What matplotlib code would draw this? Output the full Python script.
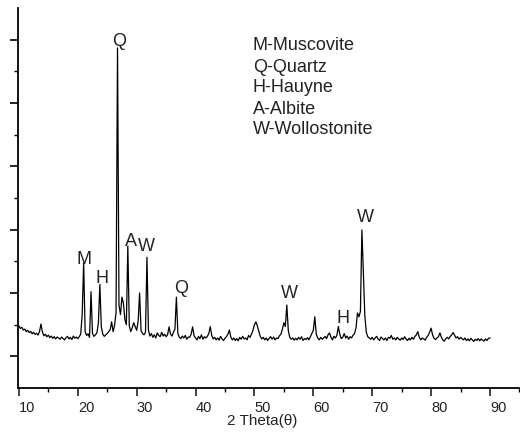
import numpy as np
import matplotlib
matplotlib.use("Agg")
import matplotlib.pyplot as plt
from matplotlib.ticker import FixedLocator, MultipleLocator

plt.rcParams['font.family'] = ['Liberation Sans', 'DejaVu Sans']

# 2 theta grid, 0.25 deg step from 10 to 90
two_theta = np.arange(10, 90.001, 0.25)

# intensity, one row per degree
intensity = [
    196, 188, 192, 183,
    186, 178, 182, 175,
    179, 171, 176, 169,
    173, 167, 178, 202,
    176, 165, 170, 162,
    167, 159, 164, 157,
    162, 155, 161, 158,
    154, 161, 156, 152,
    159, 163, 155, 160,
    153, 164, 157, 161,
    156, 162, 170, 232,   # 20
    395, 178, 166, 171,
    160, 304, 172, 163,
    168, 174, 205, 327,
    192, 170, 163, 168,
    172, 178, 184, 209,
    178, 198, 238, 1074,
    262, 232, 287, 268,
    216, 200, 448, 196,
    178, 190, 206, 194,
    182, 210, 300, 181,   # 30
    172, 168, 176, 413,
    183, 164, 172, 160,
    168, 158, 174, 166,
    162, 176, 164, 170,
    162, 168, 193, 170,
    164, 176, 186, 287,
    172, 160, 156, 164,
    158, 166, 154, 161,
    160, 170, 193, 165,
    158, 152, 163, 156,   # 40
    168, 154, 162, 158,
    163, 172, 194, 166,
    155, 160, 152, 158,
    151, 163, 155, 150,
    157, 162, 170, 183,
    160, 152, 158, 150,
    156, 149, 160, 154,
    163, 155, 158, 152,
    166, 160, 170, 182,
    200, 209, 196, 178,   # 50
    163, 155, 160, 152,
    158, 150, 157, 162,
    154, 161, 152, 158,
    156, 165, 170, 186,
    206, 194, 262, 182,
    160, 154, 158, 151,
    157, 152, 160, 154,
    162, 150, 156, 153,
    159, 152, 162, 172,
    182, 225, 170, 158,   # 60
    152, 160, 154, 158,
    163, 156, 168, 174,
    160, 152, 163, 158,
    166, 194, 170, 156,
    160, 172, 158, 164,
    154, 162, 158, 167,
    172, 190, 237, 225,
    242, 499, 363, 228,
    176, 162, 158, 154,
    160, 152, 158, 163,   # 70
    155, 150, 161, 156,
    152, 158, 150, 160,
    157, 166, 154, 158,
    152, 160, 155, 151,
    158, 153, 162, 155,
    150, 157, 152, 160,
    154, 163, 168, 178,
    160, 152, 158, 155,
    151, 160, 166, 176,
    189, 168, 157, 153,   # 80
    158, 162, 174, 160,
    152, 148, 156, 160,
    155, 163, 168, 175,
    166, 158, 162, 154,
    160, 156, 152, 158,
    150, 155, 149, 157,
    152, 147, 154, 150,
    156, 149, 155, 151,
    148, 155, 150, 157,
    158,
]

# phase letters over the peaks
peak_text = ['Q', 'M', 'H', 'A', 'W', 'Q', 'W', 'H', 'W']
peak_x = [27.0, 21.0, 24.05, 28.95, 31.7, 37.6, 56.0, 65.1, 68.9]
peak_y = [1093, 407, 345, 462, 446, 313, 297, 219, 537]

phases = ['M-Muscovite', 'Q-Quartz', 'H-Hauyne', 'A-Albite', 'W-Wollostonite']

fig = plt.figure(figsize=(5.2, 4.37), dpi=100)
ax = fig.add_axes([18/520, 49/437, 502/520, 380/437])

ax.plot(two_theta, intensity, color='black', lw=0.9)

for t, x, y in zip(peak_text, peak_x, peak_y):
    ax.text(x, y, t, fontsize=13, color='#222222', ha='center', va='center')

for i, p in enumerate(phases):
    ax.text((253-18)/502, (388-46-21*i)/380, p, transform=ax.transAxes,
            fontsize=13, color='#222222', ha='left', va='center')

ax.set_ylim(0, 1200)
ax.spines['top'].set_visible(False)
ax.spines['right'].set_visible(False)
ax.spines['left'].set_linewidth(1.3)
ax.spines['bottom'].set_linewidth(1.3)

ax.xaxis.set_minor_locator(MultipleLocator(5))
ax.yaxis.set_major_locator(FixedLocator([100, 300, 500, 700, 900, 1100]))
ax.yaxis.set_minor_locator(FixedLocator([200, 400, 600, 800, 1000]))
ax.tick_params(which='major', length=6, width=1.2, direction='out')
ax.tick_params(which='minor', length=3, width=1.0, direction='out')
ax.tick_params(axis='y', labelleft=False)
ax.tick_params(axis='x', labelsize=10.5, pad=3, colors='#222222')
ax.set_xticks([10, 20, 30, 40, 50, 60, 70, 80, 90, 100])
ax.set_xticklabels(['10', '20', '30', '40', '50', '60', '70', '80', '90', ''], ha='left')
ax.set_xlim(9.85, 95.1)

ax.set_xlabel('2 Theta(θ)', fontsize=11, color='#222222')
ax.xaxis.set_label_coords((262-18)/502, -0.068)
ax.xaxis.label.set_va('top')

fig.savefig('out.png', dpi=100)
